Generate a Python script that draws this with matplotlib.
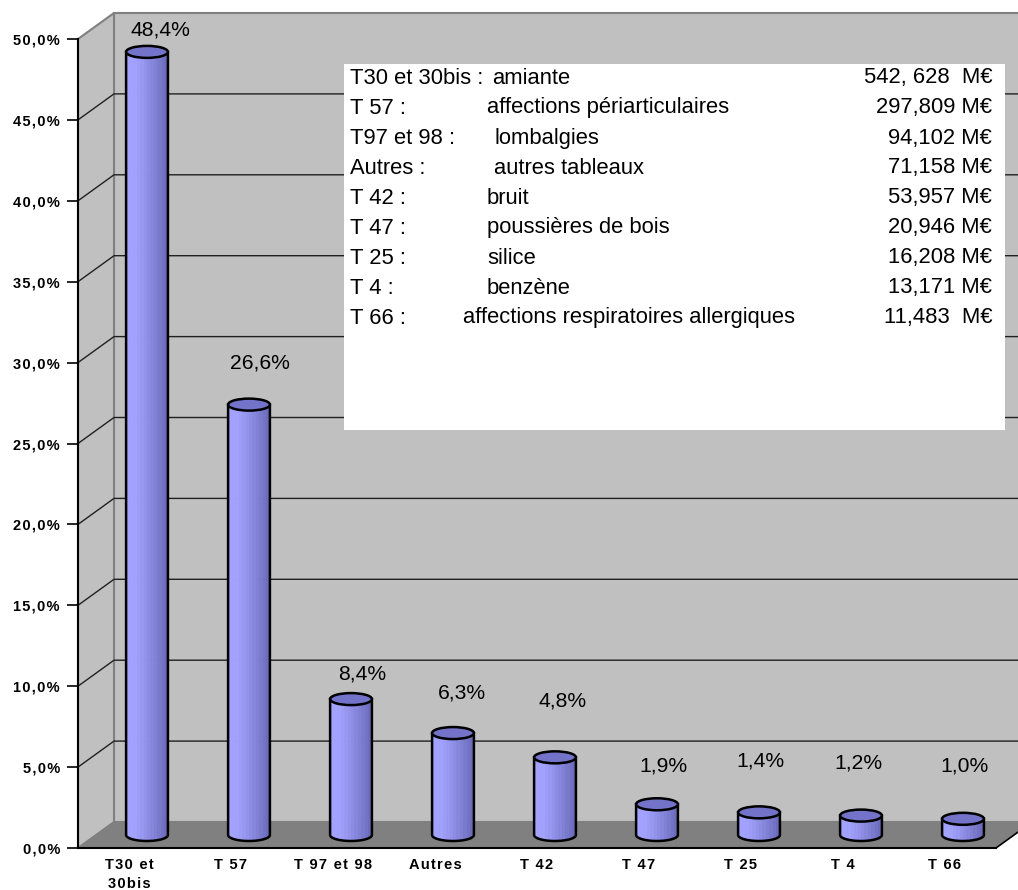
import numpy as np
import matplotlib
matplotlib.use('Agg')
import matplotlib.pyplot as plt
from matplotlib.patches import Rectangle, Polygon, Ellipse, PathPatch
from matplotlib.path import Path

plt.rcParams['font.family'] = ['Liberation Sans', 'DejaVu Sans']

'''Data'''
categories = ['T30 et\n30bis', 'T 57', 'T 97 et 98', 'Autres', 'T 42', 'T 47', 'T 25', 'T 4', 'T 66']
shares = [48.4, 26.6, 8.4, 6.3, 4.8, 1.9, 1.4, 1.2, 1.0]
y_ticks = [0, 5, 10, 15, 20, 25, 30, 35, 40, 45, 50]

box_codes = ['T30 et 30bis :', 'T 57 :', 'T97 et 98 :', 'Autres :', 'T 42 :', 'T 47 :', 'T 25 :', 'T 4 :', 'T 66 :']
box_names = ['amiante', 'affections périarticulaires', 'lombalgies', 'autres tableaux', 'bruit',
             'poussières de bois', 'silice', 'benzène', 'affections respiratoires allergiques']
box_costs = ['542, 628  M€', '297,809 M€', '94,102 M€', '71,158 M€', '53,957 M€',
             '20,946 M€', '16,208 M€', '13,171 M€', '11,483  M€']

'''Layout (pixels)'''
label_offsets = [(13, 22), (11, 42), (11, 25), (9, 40), (8, 56), (6, 38), (1, 51), (-3, 53), (2, 53)]
name_x = [492, 487, 494, 494, 487, 487, 487, 487, 463]

W, H = 1018, 890
DX, DY = 36 / 102, 26 / 16.18   # depth offset in data units
bw = 0.41                        # cylinder width
eh = 12 / 16.18                  # cylinder cap height


def spaced(s):
    return '\u200a'.join(s)


fig = plt.figure(figsize=(W / 100, H / 100), dpi=100)
ax = fig.add_axes([78 / W, 42 / H, 918 / W, 809 / H])
ax.set_xlim(-0.5, 8.5)
ax.set_ylim(0, 50)
ax.patch.set_visible(False)

# walls and floor
x0, x1 = -0.5, 8.5
ax.add_patch(Rectangle((x0 + DX, DY), 9, 50, fc='#c0c0c0', ec='#808080', lw=1.5, clip_on=False, zorder=0))
ax.add_patch(Polygon([(x0, 0), (x0, 50), (x0 + DX, 50 + DY), (x0 + DX, DY)], closed=True,
                     fc='#c0c0c0', ec='#808080', lw=1.5, clip_on=False, zorder=0))
for v in y_ticks[1:-1]:
    ax.plot([x0, x0 + DX, x1 + DX], [v, v + DY, v + DY], color='#202020', lw=1, clip_on=False, zorder=1)
ax.add_patch(Polygon([(x0, 0), (x1, 0), (x1 + DX, DY), (x0 + DX, DY)], closed=True,
                     fc='#808080', ec='none', clip_on=False, zorder=1))
ax.plot([x1, x1 + DX], [0, DY], color='black', lw=1.2, clip_on=False, zorder=2)

# cylinders
light = np.array(matplotlib.colors.to_rgb('#a2a2ff'))
dark = np.array(matplotlib.colors.to_rgb('#6c6cbc'))
n = 12
t = np.linspace(0, 1, n)
mix = np.clip((t - 0.15) / 0.85, 0, 1) ** 1.2
strip_colors = [tuple(light * (1 - m) + dark * m) for m in mix]

for i, h in enumerate(shares):
    cx = i + DX / 2
    base = DY / 2
    th = np.linspace(np.pi, 2 * np.pi, 30)
    verts = [(cx - bw / 2, base + h)]
    verts += [(cx + bw / 2 * np.cos(a), base + eh / 2 * np.sin(a)) for a in th]
    verts += [(cx + bw / 2, base + h), (cx - bw / 2, base + h)]
    codes = [Path.MOVETO] + [Path.LINETO] * (len(verts) - 2) + [Path.CLOSEPOLY]
    body = PathPatch(Path(verts, codes), fc='none', ec='black', lw=1.8, zorder=4, clip_on=False)
    ax.add_patch(body)
    bars = ax.bar(cx - bw / 2 + (np.arange(n) + 0.5) * bw / n, h + eh, width=bw / n,
                  bottom=base - eh / 2, color=strip_colors, ec=strip_colors, lw=0.5, zorder=3)
    for r in bars:
        r.set_clip_path(body)
    ax.add_patch(Ellipse((cx, base + h), bw, eh, fc='#7373c9', ec='black', lw=1.8, zorder=5, clip_on=False))
    dx, dy = label_offsets[i]
    ax.annotate(f'{h:.1f}%'.replace('.', ','), xy=(cx, base + h), xytext=(dx, dy),
                textcoords='offset pixels', ha='center', va='center', fontsize=15.2, zorder=6)

# axes
for s in ['top', 'right']:
    ax.spines[s].set_visible(False)
ax.spines['left'].set_linewidth(1.5)
ax.spines['bottom'].set_linewidth(1.5)
ax.spines['left'].set_zorder(2)
ax.spines['bottom'].set_zorder(2)
ax.set_yticks(y_ticks)
ax.set_yticklabels([spaced(f'{v:.1f}%'.replace('.', ',')) for v in y_ticks], fontweight='bold', fontsize=10.5)
ax.tick_params(axis='y', length=8, width=1.2, pad=5)
ax.set_xticks(range(len(categories)))
ax.set_xticklabels(['\n'.join(spaced(p) for p in c.split('\n')) for c in categories],
                   fontweight='bold', fontsize=10.5, linespacing=1.45)
ax.tick_params(axis='x', length=0, pad=7)

# text box
fig.add_artist(Rectangle((344 / W, 1 - 430 / H), 661 / W, 366 / H, transform=fig.transFigure,
                         fc='white', ec='none', zorder=3))
for k in range(len(box_codes)):
    y = 1 - (78 + 30 * k) / H
    fig.text(350 / W, y, box_codes[k], fontsize=15.8, va='center', ha='left', zorder=4)
    fig.text(name_x[k] / W, y, box_names[k], fontsize=15.8, va='center', ha='left', zorder=4)
    fig.text(992 / W, y, box_costs[k], fontsize=15.8, va='center', ha='right', zorder=4)

fig.savefig('out.png', dpi=100)
